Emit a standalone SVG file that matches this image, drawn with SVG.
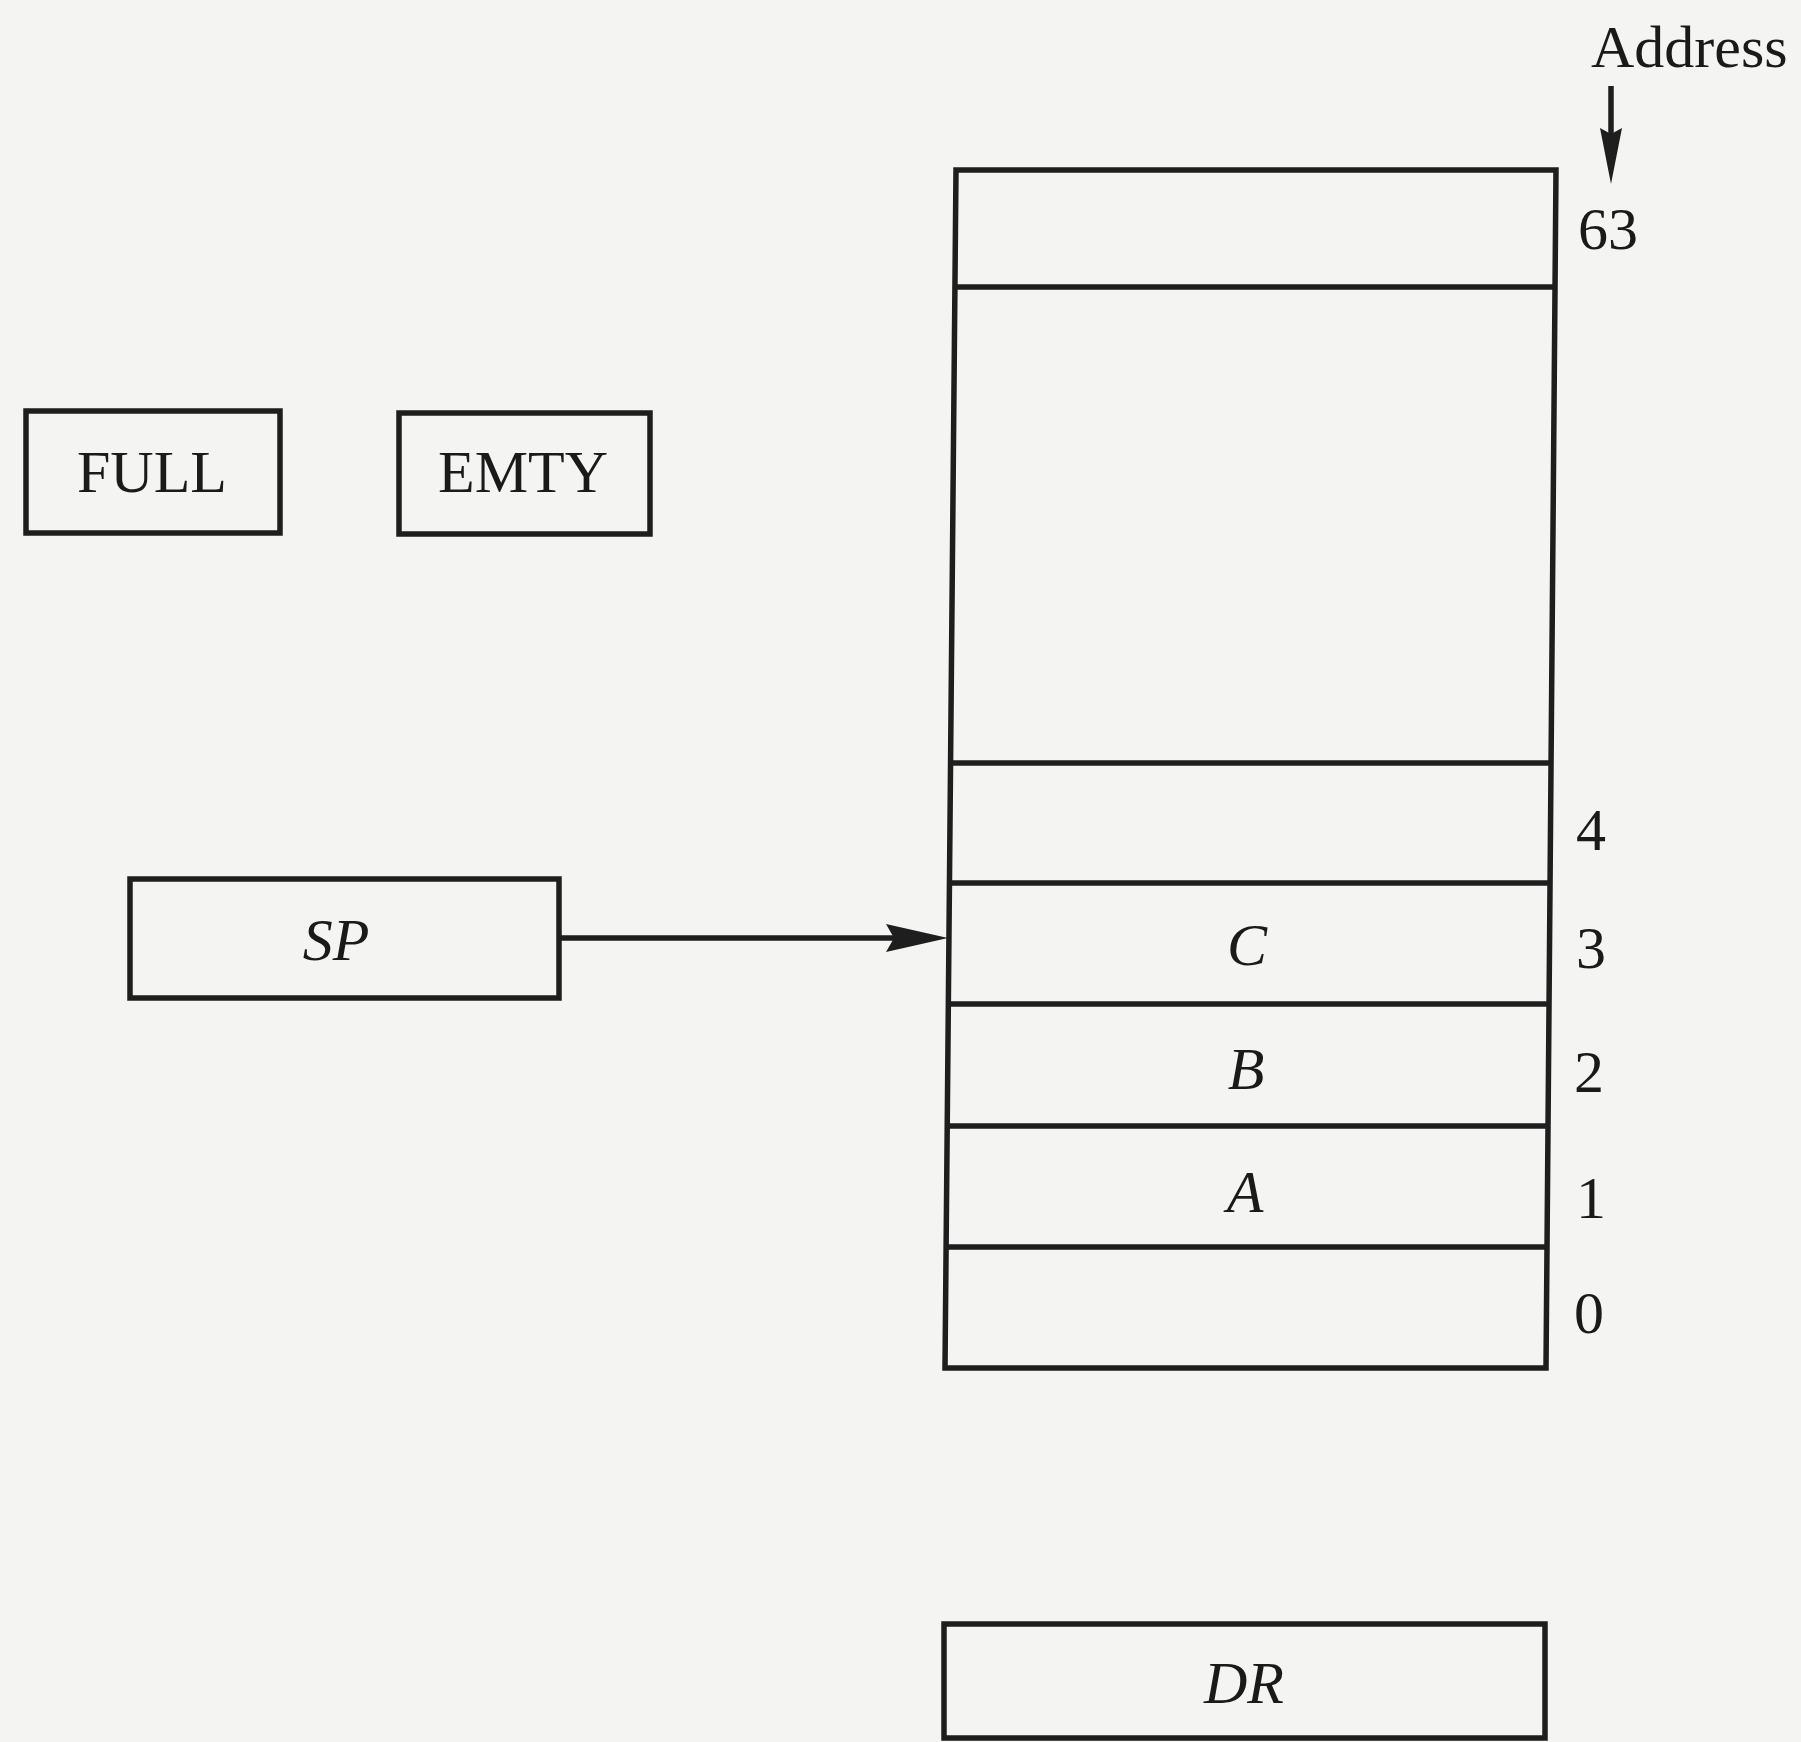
<svg xmlns="http://www.w3.org/2000/svg" width="1801" height="1742" viewBox="0 0 1801 1742">
<style>
.box{fill:none;stroke:#1e1e1e;stroke-width:5.5}
.ln{stroke:#1e1e1e;stroke-width:5.5;fill:none}
.t{font-family:"Liberation Serif","Times New Roman",serif;font-size:60px;fill:#1a1a1a}
.i{font-style:italic}
.m{text-anchor:middle}
</style>
<defs>
<marker id="ah" markerUnits="userSpaceOnUse" markerWidth="64" markerHeight="30" refX="8" refY="14" orient="auto" overflow="visible">
<path d="M0,0 L62,14 L0,28 L8,14 Z" fill="#1e1e1e"/>
</marker>
<marker id="ah2" markerUnits="userSpaceOnUse" markerWidth="58" markerHeight="24" refX="6" refY="11" orient="auto" overflow="visible">
<path d="M0,0 L56,11 L0,22 L6,11 Z" fill="#1e1e1e"/>
</marker>
</defs>
<rect x="0" y="0" width="1801" height="1742" fill="#f4f4f2"/>

<g id="address">
<text class="t" x="1591" y="67">Address</text>
</g>

<g id="full">
<rect class="box" x="26" y="411" width="254" height="122"/>
<text class="t m" x="152" y="492">FULL</text>
</g>

<g id="emty">
<rect class="box" x="399" y="413" width="251" height="121"/>
<text class="t m" x="523" y="492">EMTY</text>
</g>

<g id="sp">
<rect class="box" x="130" y="879" width="429" height="119"/>
<text class="t i m" x="336" y="960">SP</text>
</g>

<g id="stack">
<polygon class="box" points="956,170 1556,170 1546,1368 945,1368"/>
<line class="ln" x1="955" y1="287" x2="1555" y2="287"/>
<line class="ln" x1="949" y1="763" x2="1551" y2="763"/>
<line class="ln" x1="948" y1="883" x2="1550" y2="883"/>
<line class="ln" x1="947" y1="1004" x2="1549" y2="1004"/>
<line class="ln" x1="946" y1="1126" x2="1548" y2="1126"/>
<line class="ln" x1="945" y1="1247" x2="1547" y2="1247"/>
<text class="t i m" x="1247" y="965">C</text>
<text class="t i m" x="1246" y="1089">B</text>
<text class="t i m" x="1245" y="1212">A</text>
<text class="t" x="1578" y="249">63</text>
<text class="t" x="1576" y="850">4</text>
<text class="t" x="1576" y="968">3</text>
<text class="t" x="1574" y="1092">2</text>
<text class="t" x="1576" y="1218">1</text>
<text class="t" x="1574" y="1333">0</text>
</g>

<g id="dr">
<rect class="box" x="944" y="1624" width="601" height="114"/>
<text class="t i m" x="1244" y="1703">DR</text>
</g>

<g id="connectors">
<line class="ln" x1="559" y1="938" x2="894" y2="938" marker-end="url(#ah)"/>
<line class="ln" x1="1611" y1="86" x2="1611" y2="134" stroke-width="3.5" marker-end="url(#ah2)"/>
</g>
</svg>
